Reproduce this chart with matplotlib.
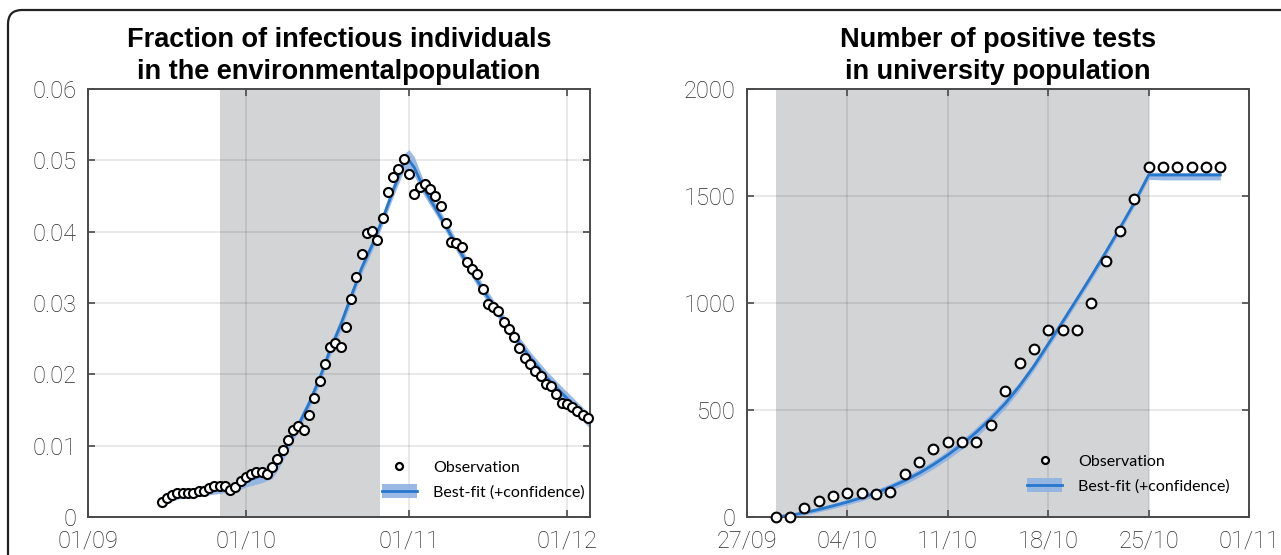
import datetime as dt

import matplotlib

matplotlib.use('Agg')

import matplotlib.pyplot as plt
import matplotlib.dates as mdates
from matplotlib.lines import Line2D
from matplotlib.patches import Patch, FancyBboxPatch

# ---- left panel: fraction of infectious individuals (days after 01/09)
env_start = dt.datetime(2020, 9, 1)
env_obs_days = list(range(14, 96))
env_obs = [0.0021, 0.0026, 0.0031, 0.0033, 0.0033, 0.0033, 0.0033, 0.0036, 0.0037, 0.0040,
           0.0043, 0.0044, 0.0044, 0.0038, 0.0042, 0.0050, 0.0056, 0.0060, 0.0063, 0.0063,
           0.0060, 0.0070, 0.0081, 0.0094, 0.0108, 0.0122, 0.0127, 0.0122, 0.0143, 0.0167,
           0.0191, 0.0215, 0.0239, 0.0244, 0.0239, 0.0266, 0.0305, 0.0336, 0.0368, 0.0398,
           0.0401, 0.0388, 0.0419, 0.0456, 0.0477, 0.0488, 0.0502, 0.0481, 0.0453, 0.0462,
           0.0467, 0.0460, 0.0450, 0.0436, 0.0412, 0.0386, 0.0384, 0.0378, 0.0357, 0.0348,
           0.0340, 0.0319, 0.0299, 0.0295, 0.0289, 0.0274, 0.0264, 0.0253, 0.0237, 0.0223,
           0.0214, 0.0204, 0.0197, 0.0187, 0.0184, 0.0173, 0.0160, 0.0158, 0.0154, 0.0149,
           0.0143, 0.0139]
env_fit_days = [14, 17, 20, 25, 28, 30, 33, 35, 36, 38, 40, 42, 44, 46, 48, 50, 52, 54,
                56, 58, 60, 61, 62, 64, 66, 68, 70, 72, 75, 78, 81, 84, 87, 90, 93, 95.4]
env_fit = [0.0022, 0.0030, 0.0033, 0.0038, 0.0041, 0.0050, 0.0058, 0.0065, 0.0075, 0.0102,
           0.0129, 0.0159, 0.0194, 0.0234, 0.0269, 0.0309, 0.0349, 0.0381, 0.0418, 0.0458,
           0.0496, 0.0500, 0.0490, 0.0458, 0.0433, 0.0408, 0.0381, 0.0356, 0.0319, 0.0286,
           0.0254, 0.0224, 0.0197, 0.0174, 0.0152, 0.0134]
env_fit_lo = [0.0017, 0.0025, 0.0028, 0.0033, 0.0036, 0.0042, 0.0048, 0.0054, 0.0065, 0.0093,
              0.0121, 0.0151, 0.0186, 0.0225, 0.0260, 0.0301, 0.0341, 0.0373, 0.0410, 0.0449,
              0.0485, 0.0487, 0.0478, 0.0449, 0.0425, 0.0400, 0.0373, 0.0348, 0.0311, 0.0278,
              0.0246, 0.0216, 0.0189, 0.0165, 0.0143, 0.0124]
env_fit_hi = [0.0027, 0.0035, 0.0038, 0.0043, 0.0046, 0.0058, 0.0068, 0.0076, 0.0085, 0.0111,
              0.0137, 0.0167, 0.0202, 0.0243, 0.0278, 0.0317, 0.0357, 0.0389, 0.0426, 0.0468,
              0.0509, 0.0515, 0.0505, 0.0467, 0.0441, 0.0416, 0.0389, 0.0364, 0.0327, 0.0294,
              0.0262, 0.0232, 0.0206, 0.0183, 0.0161, 0.0144]
env_yticks = [0, 0.01, 0.02, 0.03, 0.04, 0.05, 0.06]
env_yticklabels = ['0', '0.01', '0.02', '0.03', '0.04', '0.05', '0.06']

# ---- right panel: positive tests (days after 27/09)
uni_start = dt.datetime(2020, 9, 27)
uni_days = list(range(2, 34))
uni_obs = [0, 0, 40, 75, 98, 111, 111, 107, 118, 201, 257, 316, 350, 350, 350, 430, 590,
           718, 783, 875, 875, 875, 1001, 1198, 1335, 1485, 1636, 1636, 1636, 1636, 1636, 1636]
uni_fit = [0, 8, 20, 35, 52, 70, 90, 113, 140, 170, 205, 245, 290, 340, 397, 460, 530, 612,
           705, 808, 912, 1018, 1125, 1236, 1350, 1468, 1598, 1598, 1598, 1598, 1598, 1598]
uni_fit_lo = [0, 2, 10, 24, 40, 57, 76, 98, 124, 153, 187, 226, 270, 318, 374, 437, 508, 592,
              686, 790, 894, 1000, 1107, 1218, 1333, 1451, 1578, 1575, 1575, 1575, 1575, 1575]
uni_fit_hi = [0, 14, 30, 46, 64, 83, 104, 128, 156, 187, 223, 264, 310, 362, 420, 483, 552,
              632, 724, 826, 930, 1036, 1143, 1254, 1367, 1485, 1612, 1610, 1610, 1610, 1610, 1610]
uni_yticks = [0, 500, 1000, 1500, 2000]

LINE = '#2777cc'
BAND = '#8fb3e3'
SHADE = '#d3d4d6'
TICKC = '#2a2a2a'

plt.rcParams['font.family'] = ['Liberation Sans', 'DejaVu Sans']


def to_dates(start, days):
    return [start + dt.timedelta(days=d) for d in days]


def style_axes(ax):
    for s in ax.spines.values():
        s.set_color('#4a4a4a')
        s.set_linewidth(1.4)
    ax.tick_params(direction='in', top=True, right=True, length=5, width=1.2,
                   color='#4a4a4a', labelsize=17, labelcolor=TICKC)
    ax.tick_params(axis='y', pad=8)
    ax.tick_params(axis='x', pad=9)
    for lab in ax.get_xticklabels() + ax.get_yticklabels():
        lab.set_fontfamily(['Roboto', 'DejaVu Sans'])
        lab.set_fontweight('light')
    ax.grid(True, color='black', alpha=0.1, linewidth=1.2)
    ax.set_axisbelow(True)


def add_legend(ax, anchor):
    obs_h = Line2D([], [], ls='none', marker='o', ms=5, mfc='white', mec='black', mew=1.6)
    fit_h = (Patch(facecolor=BAND, edgecolor='none', alpha=0.9),
             Line2D([], [], color=LINE, lw=2))
    ax.legend([obs_h, fit_h], ['Observation', 'Best-fit (+confidence)'],
              loc='lower right', bbox_to_anchor=anchor, frameon=False,
              prop={'family': ['Lato', 'DejaVu Sans'], 'size': 11.5},
              handlelength=2.2, handleheight=0.9, handletextpad=1.0,
              labelspacing=0.6, borderpad=0)


fig = plt.figure(figsize=(12.81, 5.55), dpi=100)
ax1 = fig.add_axes([88 / 1281, 38 / 555, 502 / 1281, 428 / 555])
ax2 = fig.add_axes([747 / 1281, 38 / 555, 502 / 1281, 428 / 555])

# left
ax1.axvspan(dt.datetime(2020, 9, 26), dt.datetime(2020, 10, 26, 12), color=SHADE, zorder=0.2, lw=0)
fx = to_dates(env_start, env_fit_days)
ax1.fill_between(fx, env_fit_lo, env_fit_hi, color=BAND, alpha=0.9, lw=0, zorder=2)
ax1.plot(fx, env_fit, color=LINE, lw=2, zorder=3)
ax1.plot(to_dates(env_start, env_obs_days), env_obs, ls='none', marker='o', ms=6.5,
         mfc='white', mec='black', mew=1.5, zorder=4, clip_on=False)
ax1.set_xlim(env_start, env_start + dt.timedelta(days=95.4))
ax1.set_ylim(0, 0.06)
ax1.set_yticks(env_yticks)
ax1.set_yticklabels(env_yticklabels)
ax1.set_xticks(to_dates(env_start, [0, 30, 61, 91]))
ax1.xaxis.set_major_formatter(mdates.DateFormatter('%d/%m'))
ax1.set_title('Fraction of infectious individuals\nin the environmentalpopulation',
              fontsize=19.5, fontweight='bold', pad=7, linespacing=1.3)
style_axes(ax1)
add_legend(ax1, (1.005, 0.022))

# right
ax2.axvspan(dt.datetime(2020, 9, 29), dt.datetime(2020, 10, 25), color=SHADE, zorder=0.2, lw=0)
ux = to_dates(uni_start, uni_days)
ax2.fill_between(ux, uni_fit_lo, uni_fit_hi, color=BAND, alpha=0.9, lw=0, zorder=2)
ax2.plot(ux, uni_fit, color=LINE, lw=2, zorder=3)
ax2.plot(ux, uni_obs, ls='none', marker='o', ms=7, mfc='white', mec='black', mew=1.5,
         zorder=4, clip_on=False)
ax2.set_xlim(uni_start, uni_start + dt.timedelta(days=35))
ax2.set_ylim(0, 2000)
ax2.set_yticks(uni_yticks)
ax2.set_xticks(to_dates(uni_start, [0, 7, 14, 21, 28, 35]))
ax2.xaxis.set_major_formatter(mdates.DateFormatter('%d/%m'))
ax2.set_title('Number of positive tests\nin university population',
              fontsize=19.5, fontweight='bold', pad=7, linespacing=1.3)
style_axes(ax2)
add_legend(ax2, (0.978, 0.036))

# rounded frame around the panel
frame = FancyBboxPatch((8, -40), 1300, 555 - 10 + 40, boxstyle='round,pad=0,rounding_size=14',
                       transform=None, fill=False, ec='#222222', lw=1.6)
fig.patches.append(frame)

fig.savefig('out.png', dpi=100)
